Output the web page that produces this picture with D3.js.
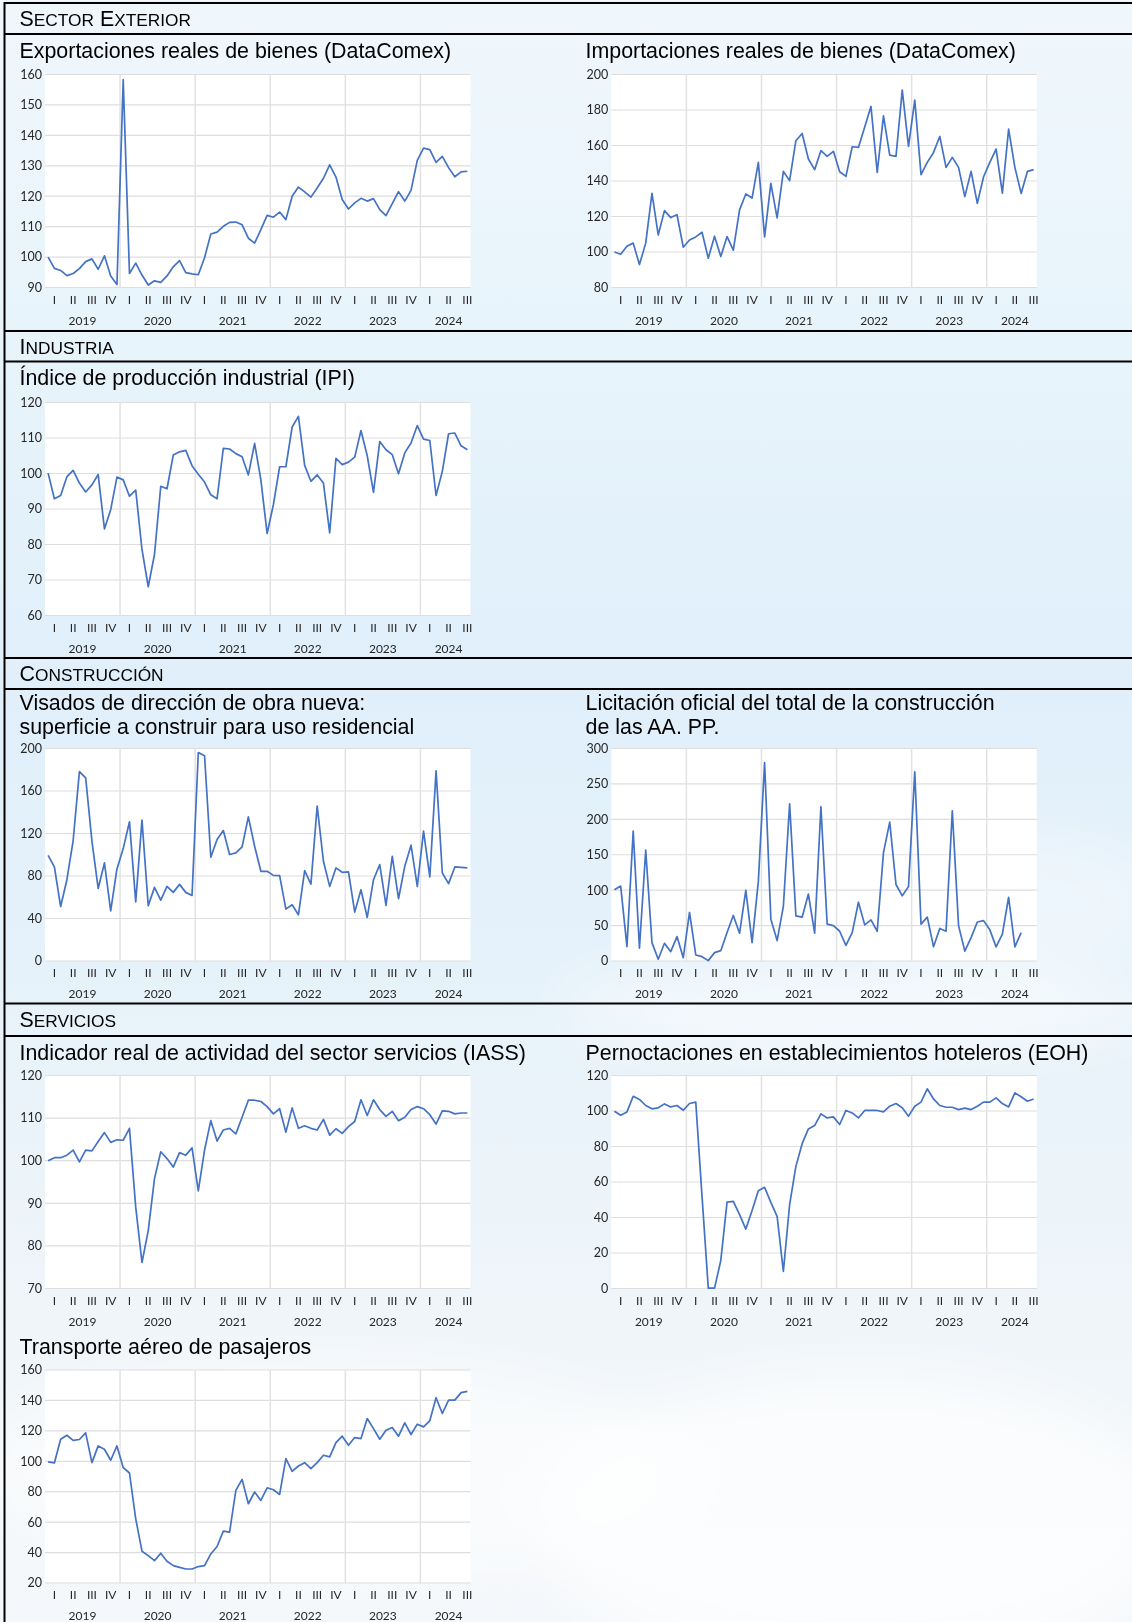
<!DOCTYPE html>
<html>
<head>
<meta charset="utf-8">
<script src="https://cdn.jsdelivr.net/npm/d3@7"></script>
<style>
  body { margin: 0; background: #eef6fb; }
  svg { display: block; }
</style>
</head>
<body>
<svg id="page" width="1132" height="1622"></svg>
<script>
// categories: monthly, Jan 2019 - Aug 2024
const years = [2019, 2020, 2021, 2022, 2023, 2024];
const monthCodes = ["01","02","03","04","05","06","07","08","09","10","11","12"];
const lastMonth = "2024-08";
const months = years.flatMap(y => monthCodes.map(m => `${y}-${m}`)).filter(d => d <= lastMonth);
const quarterLabels = ["I", "II", "III", "IV"];

// series (index, base 2019 = 100)
const exportaciones = [100, 96.3, 95.6, 93.9, 94.6, 96.2, 98.5, 99.4, 96, 100.4, 93.8, 91,
  158.3, 94.6, 98, 94.1, 90.8, 92.2, 91.7, 93.8, 96.8, 98.8, 94.9, 94.5,
  94.2, 99.8, 107.6, 108.2, 110.1, 111.4, 111.5, 110.6, 106.2, 104.6, 109, 113.7,
  113.1, 114.8, 112.3, 120, 123, 121.4, 119.7, 122.7, 125.9, 130.3, 126.3, 118.9,
  115.8, 117.8, 119.3, 118.4, 119.2, 115.6, 113.6, 117.6, 121.5, 118.4, 121.9, 131.8,
  135.8, 135.3, 131.1, 133.1, 129.4, 126.4, 128, 128.2];
const importaciones = [100, 98.7, 103.2, 105, 92.9, 105, 133, 109.6, 123.3, 119.4, 121, 102.7,
  106.8, 108.5, 111.1, 96.5, 108.9, 97.4, 108.7, 101, 123.7, 132.7, 130.4, 150.5,
  108.5, 138.7, 119.2, 145.4, 140.2, 162.7, 166.8, 152.4, 146.4, 157.1, 153.9, 156.7,
  145.2, 142.6, 159.3, 158.9, 170.4, 182, 144.9, 176.7, 154.6, 153.9, 191.2, 159.5,
  185.6, 143.6, 150.5, 156.1, 165.1, 147.7, 153.3, 147.7, 131.2, 145.4, 127.4, 142.4,
  150.5, 158, 133.2, 169.2, 147.7, 133, 145.4, 146.4];
const ipi = [100.1, 92.9, 93.8, 99.1, 100.9, 97.3, 94.8, 96.8, 99.7, 84.4, 89.8, 99,
  98.2, 93.6, 95.3, 78.6, 68.1, 77.2, 96.4, 95.7, 105.2, 106.1, 106.5, 102.2,
  99.8, 97.6, 94, 92.9, 107.1, 106.9, 105.6, 104.7, 99.6, 108.5, 98.2, 83.1,
  91.2, 101.9, 101.9, 113.1, 116.1, 102.3, 97.8, 99.6, 97.3, 83.3, 104.3, 102.5,
  103.2, 104.6, 112.1, 105, 94.7, 109, 106.7, 105.3, 99.9, 105.8, 108.6, 113.5,
  109.7, 109.3, 93.8, 100.6, 111.2, 111.4, 107.8, 106.7];
const visados = [99.5, 88.5, 51.3, 76.5, 113.4, 178.3, 172.3, 112.8, 68.3, 92.3, 47.1, 86.6,
  105.8, 131, 55.7, 132.6, 52, 69.3, 57.3, 70.2, 64.6, 72.1, 64.6, 61.7,
  196.2, 193.1, 97.6, 114.3, 122.8, 100.2, 101.7, 107.4, 135.7, 108, 84.4, 84.4,
  80.6, 80.3, 48.8, 52.9, 43.5, 85, 72.4, 145.8, 93.9, 70.2, 87.6, 83.5,
  83.8, 46, 67.1, 41, 76.5, 90.7, 52.3, 98.6, 58.6, 89.1, 109, 70.2,
  122.2, 79.1, 178.9, 82.8, 72.8, 88.5, 88.2, 87.6];
const licitacion = [100.6, 105.8, 20.3, 183.3, 18, 156.4, 26, 2.4, 25, 13.2, 34.5, 4.7,
  68.5, 8.5, 6.1, 0.5, 11.8, 14.6, 40.2, 64.3, 39.2, 99.7, 26, 112.4,
  280.2, 59.1, 28.8, 77, 222, 63.8, 61.9, 94.5, 39.2, 217.8, 52, 50,
  42, 22, 40, 83, 51, 58, 42, 153, 196, 108, 92, 105,
  267, 52, 62, 20, 46, 42, 212, 50, 14, 33, 55, 57,
  44, 20, 38, 90, 20, 40];
const iass = [100, 100.7, 100.7, 101.3, 102.5, 99.7, 102.5, 102.3, 104.5, 106.6, 104.3, 104.9,
  104.8, 107.6, 89.1, 76.1, 83.6, 95.8, 102.1, 100.5, 98.5, 101.9, 101.3, 103,
  92.9, 102.5, 109.4, 104.6, 107.2, 107.6, 106.3, 110.2, 114.2, 114.2, 113.9, 112.7,
  111, 112.2, 106.7, 112.4, 107.6, 108.2, 107.6, 107.2, 109.7, 106, 107.5, 106.4,
  108, 109.2, 114.3, 110.6, 114.3, 112, 110.4, 111.6, 109.4, 110.2, 112, 112.7,
  112.2, 110.8, 108.6, 111.7, 111.6, 111, 111.2, 111.2];
const eoh = [99.9, 97.6, 99.5, 108.3, 106.5, 103.1, 101.2, 101.8, 104, 102.3, 103.1, 100.4,
  104.2, 105, 51.9, 0.2, 0.2, 15.8, 48.7, 49.1, 41.6, 33.5, 44, 55.1,
  57, 48.5, 40.6, 9.6, 47.2, 68.8, 81.6, 89.9, 91.8, 98.4, 96.1, 96.7,
  92.4, 100.3, 98.9, 96.1, 100.3, 100.3, 100.3, 99.5, 102.7, 104.2, 101.8, 97.1,
  102.7, 105, 112.5, 106.8, 103.1, 102.1, 102.1, 100.8, 101.6, 100.8, 102.7, 105,
  105, 107.4, 104.2, 102.3, 110.2, 108, 105.5, 106.8];
const aereo = [99.6, 98.9, 114.5, 117.1, 113.8, 114.3, 118.7, 99.1, 110.1, 107.9, 100.7, 110.1,
  95.8, 92.3, 62.2, 40.9, 38, 34.7, 39.6, 34.3, 31.4, 30.3, 29.2, 29.2,
  30.8, 31.4, 39.1, 44, 54.1, 53.4, 80.9, 88.1, 72.1, 79.8, 74.3, 82.6,
  81.3, 78.2, 101.8, 93.4, 96.9, 99.1, 95.2, 99.1, 104, 102.9, 112.3, 116.5,
  110.5, 115.6, 114.9, 128.1, 121.5, 114.5, 120.4, 122.2, 116.5, 125.3, 117.6, 124.4,
  122.6, 126.6, 141.8, 131.4, 140.2, 140.2, 145.1, 145.9];

// y tick values
const exportTicks = [90, 100, 110, 120, 130, 140, 150, 160];
const importTicks = [80, 100, 120, 140, 160, 180, 200];
const ipiTicks = [60, 70, 80, 90, 100, 110, 120];
const visadosTicks = [0, 40, 80, 120, 160, 200];
const licitacionTicks = [0, 50, 100, 150, 200, 250, 300];
const iassTicks = [70, 80, 90, 100, 110, 120];
const eohTicks = [0, 20, 40, 60, 80, 100, 120];
const aereoTicks = [20, 40, 60, 80, 100, 120, 140, 160];

const sections = ["Sector Exterior", "Industria", "Construcción", "Servicios"];

// ---- layout ----
const W = 1132, H = 1622;
const colLeft = [45, 611.3];
const colTitleX = [19.5, 585.5];
const monthW = 6.257;
const plotW = months.length * monthW;

const charts = [
  {title: ["Exportaciones reales de bienes (DataComex)"], data: exportaciones, ticks: exportTicks, col: 0, top: 74.5, bottom: 287.5, titleY: 58},
  {title: ["Importaciones reales de bienes (DataComex)"], data: importaciones, ticks: importTicks, col: 1, top: 74.5, bottom: 287.5, titleY: 58},
  {title: ["Índice de producción industrial (IPI)"], data: ipi, ticks: ipiTicks, col: 0, top: 402.5, bottom: 615.5, titleY: 385},
  {title: ["Visados de dirección de obra nueva:", "superficie a construir para uso residencial"], data: visados, ticks: visadosTicks, col: 0, top: 748.5, bottom: 961, titleY: 709.5},
  {title: ["Licitación oficial del total de la construcción", "de las AA. PP."], data: licitacion, ticks: licitacionTicks, col: 1, top: 748.5, bottom: 961, titleY: 709.5},
  {title: ["Indicador real de actividad del sector servicios (IASS)"], data: iass, ticks: iassTicks, col: 0, top: 1075.5, bottom: 1288.5, titleY: 1059.5},
  {title: ["Pernoctaciones en establecimientos hoteleros (EOH)"], data: eoh, ticks: eohTicks, col: 1, top: 1075.5, bottom: 1288.5, titleY: 1059.5},
  {title: ["Transporte aéreo de pasajeros"], data: aereo, ticks: aereoTicks, col: 0, top: 1370, bottom: 1583, titleY: 1353.5}
];

const headerLines = [3, 34, 331, 361.5, 658, 689, 1003.5, 1036];
const headerY = [25.5, 353.7, 680.6, 1027];

const svg = d3.select("#page");
const defs = svg.append("defs");

// background wash
const grad = defs.append("linearGradient").attr("id", "bg")
  .attr("x1", 0).attr("y1", 0).attr("x2", 0).attr("y2", 1);
[[0, "#f0f7fb"], [0.2, "#e8f4fb"], [0.42, "#e0effa"], [0.6, "#e6f2fa"], [0.8, "#eff5f9"], [1, "#f5f8fb"]]
  .forEach(s => grad.append("stop").attr("offset", s[0]).attr("stop-color", s[1]));
svg.append("rect").attr("width", W).attr("height", H).attr("fill", "url(#bg)");

defs.append("filter").attr("id", "soft")
  .attr("x", "-50%").attr("y", "-50%").attr("width", "200%").attr("height", "200%")
  .append("feGaussianBlur").attr("stdDeviation", 28);

const clouds = svg.append("g").attr("filter", "url(#soft)");
clouds.append("ellipse").attr("cx", 860).attr("cy", 1010).attr("rx", 300).attr("ry", 45).attr("fill", "#fff").attr("opacity", 0.55);
clouds.append("ellipse").attr("cx", 330).attr("cy", 1470).attr("rx", 360).attr("ry", 110).attr("fill", "#fff").attr("opacity", 0.55);
clouds.append("ellipse").attr("cx", 860).attr("cy", 1520).attr("rx", 320).attr("ry", 150).attr("fill", "#fff").attr("opacity", 0.65);
clouds.append("ellipse").attr("cx", 1020).attr("cy", 900).attr("rx", 150).attr("ry", 70).attr("fill", "#fff").attr("opacity", 0.35);

// section frame
svg.selectAll(".hline")
  .data(headerLines)
  .enter().append("line")
  .attr("x1", 4).attr("x2", W)
  .attr("y1", d => d).attr("y2", d => d)
  .attr("stroke", "#000").attr("stroke-width", 2);
svg.append("line")
  .attr("x1", 4.5).attr("x2", 4.5).attr("y1", 2).attr("y2", H)
  .attr("stroke", "#000").attr("stroke-width", 2);

// section headers in small caps
sections.forEach((s, i) => {
  const t = svg.append("text")
    .attr("x", 19.5).attr("y", headerY[i])
    .attr("font-family", "'Liberation Sans', Arial, sans-serif")
    .attr("fill", "#000");
  s.split(" ").forEach((w, j) => {
    t.append("tspan").attr("font-size", 21.4).text((j > 0 ? " " : "") + w[0].toUpperCase());
    t.append("tspan").attr("font-size", 17.3).text(w.slice(1).toUpperCase());
  });
});

// charts
charts.forEach(c => {
  const left = colLeft[c.col];
  const g = svg.append("g");

  const x = d3.scaleBand().domain(months).range([left, left + plotW]);
  const y = d3.scaleLinear().domain(d3.extent(c.ticks)).range([c.bottom, c.top]);
  const bw = x.bandwidth();

  c.title.forEach((line, i) => {
    g.append("text")
      .attr("x", colTitleX[c.col]).attr("y", c.titleY + i * 24.5)
      .attr("font-family", "'Liberation Sans', Arial, sans-serif")
      .attr("font-size", 21.4).attr("fill", "#000")
      .text(line);
  });

  g.append("rect")
    .attr("x", left).attr("y", c.top)
    .attr("width", plotW).attr("height", c.bottom - c.top)
    .attr("fill", "#fff");

  g.selectAll(".hgrid")
    .data(c.ticks)
    .enter().append("line")
    .attr("x1", left).attr("x2", left + plotW)
    .attr("y1", d => y(d)).attr("y2", d => y(d))
    .attr("stroke", "#dedede").attr("stroke-width", 1.2);

  g.selectAll(".vgrid")
    .data(years.slice(1))
    .enter().append("line")
    .attr("x1", d => x(`${d}-01`)).attr("x2", d => x(`${d}-01`))
    .attr("y1", c.top).attr("y2", c.bottom)
    .attr("stroke", "#e2e2e2").attr("stroke-width", 1.5);

  g.selectAll(".ytick")
    .data(c.ticks)
    .enter().append("text")
    .attr("x", left - 3).attr("y", d => y(d)).attr("dy", "0.35em")
    .attr("text-anchor", "end")
    .attr("font-family", "Lato, 'Open Sans', sans-serif")
    .attr("font-size", 12.5).attr("fill", "#262626")
    .text(d => d);

  // two-level category labels: quarters and years
  years.forEach(yr => {
    const qx = [];
    quarterLabels.forEach((q, qi) => {
      const mid = `${yr}-${monthCodes[qi * 3 + 1]}`;
      if (months.indexOf(mid) < 0) return;
      const cx = x(mid) + bw / 2;
      qx.push(cx);
      g.append("text")
        .attr("x", cx).attr("y", c.bottom + 12).attr("dy", "0.35em")
        .attr("text-anchor", "middle")
        .attr("font-family", "Lato, 'Open Sans', sans-serif")
        .attr("font-size", 12).attr("fill", "#262626")
        .text(q);
    });
    g.append("text")
      .attr("x", d3.mean(qx)).attr("y", c.bottom + 33).attr("dy", "0.35em")
      .attr("text-anchor", "middle")
      .attr("font-family", "Lato, 'Open Sans', sans-serif")
      .attr("font-size", 12).attr("fill", "#262626")
      .text(yr);
  });

  const line = d3.line()
    .x((d, i) => x(months[i]) + bw / 2)
    .y(d => y(d));

  g.append("path")
    .datum(c.data)
    .attr("d", line)
    .attr("fill", "none")
    .attr("stroke", "#4472c4")
    .attr("stroke-width", 1.7)
    .attr("stroke-linejoin", "round");
});
</script>
</body>
</html>
